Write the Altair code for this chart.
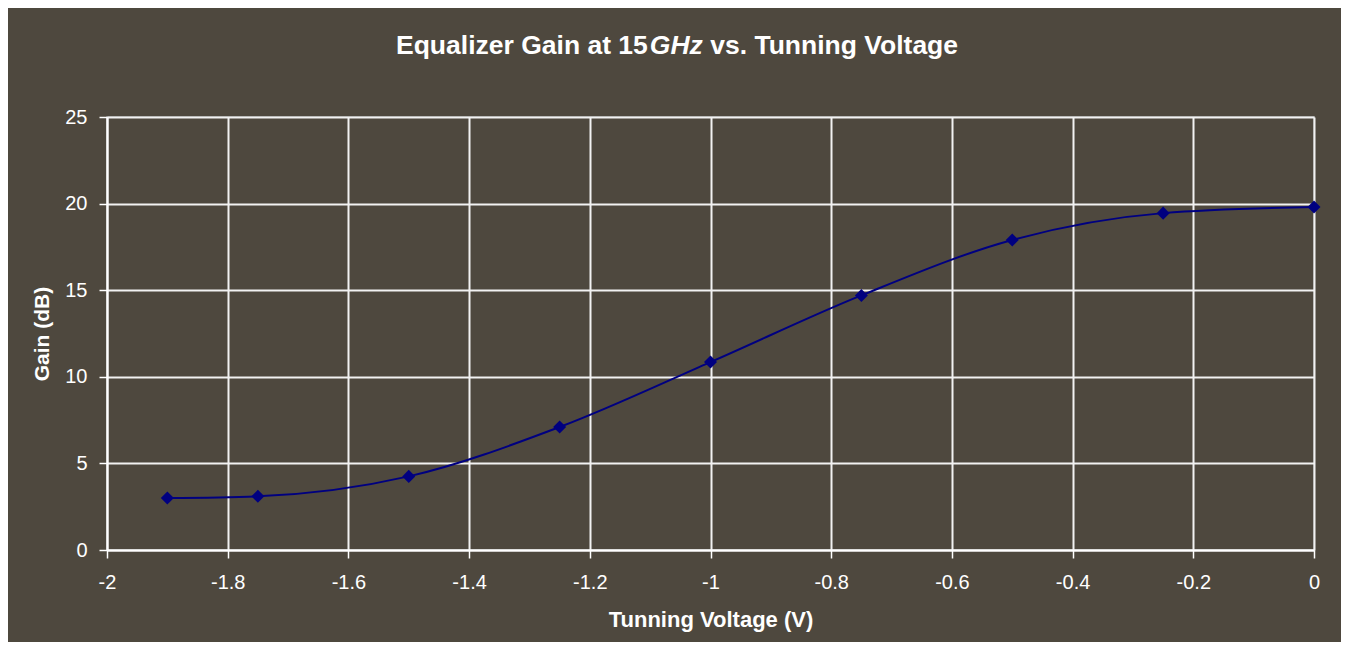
import altair as alt
import pandas as pd

voltage = [-1.9, -1.75, -1.5, -1.25, -1.0, -0.75, -0.5, -0.25, 0.0]
gain = [3.0, 3.1, 4.25, 7.1, 10.85, 14.7, 17.9, 19.45, 19.8]
x_ticks = [-2, -1.8, -1.6, -1.4, -1.2, -1, -0.8, -0.6, -0.4, -0.2, 0]
y_ticks = [0, 5, 10, 15, 20, 25]
title_parts = ["Equalizer Gain at 15", "GHz", "vs. Tunning Voltage"]

df = pd.DataFrame({"v": voltage, "g": gain})

BG = "#4e483e"
NAVY = "#000080"
FONT = "Liberation Sans"

x = alt.X("v:Q", scale=alt.Scale(domain=[-2, 0], nice=False),
          axis=alt.Axis(values=x_ticks, labelExpr="'' + datum.value",
                        labelFlush=False,
                        title="Tunning Voltage (V)", titleFontSize=22,
                        titlePadding=17, labelPadding=14))
y = alt.Y("g:Q", scale=alt.Scale(domain=[0, 25], nice=False),
          axis=alt.Axis(values=y_ticks, title="Gain (dB)", titleFontSize=21,
                        titlePadding=12, labelPadding=12, labelFlush=False))

base = alt.Chart(df)
line = base.mark_line(color=NAVY, strokeWidth=2, interpolate="monotone").encode(x=x, y=y)
pts = base.mark_point(shape="diamond", filled=True, color=NAVY, size=170, opacity=1).encode(x=x, y=y)

# title pieces (bold, with italic GHz)
fs = 26.5
w1, w2, wsp, w3 = 9.504 * fs, 2.0 * fs, 0.278 * fs, 9.502 * fs
cx = 571
left = cx - (w1 + w2 + wsp + w3) / 2
x1 = left + w1
x2 = x1 + w2 + wsp
ty = -63

def tpart(text, xpos, align, style):
    d = pd.DataFrame({"t": [text]})
    return alt.Chart(d).mark_text(
        font=FONT, fontSize=fs, fontWeight="bold", fontStyle=style,
        color="white", align=align, baseline="alphabetic"
    ).encode(text="t:N", x=alt.value(xpos), y=alt.value(ty))

t1 = tpart(title_parts[0], x1, "right", "normal")
t2 = tpart(title_parts[1], x1 + 2, "left", "italic")
t3 = tpart(title_parts[2], x2 + 2, "left", "normal")

chart = alt.layer(line, pts, t1, t2, t3).properties(
    width=1207, height=433,
    autosize=alt.AutoSizeParams(type="none"),
    padding={"left": 99, "top": 109, "right": 27, "bottom": 92},
    background=BG,
).configure_view(
    stroke="#9a9a9a", strokeWidth=1.5, fill=BG
).configure_axis(
    domainColor="white", domainWidth=2,
    gridColor="#f2f2f2", gridWidth=2,
    tickColor="white", tickWidth=1.5, tickSize=8,
    labelColor="white", labelFont=FONT, labelFontSize=20,
    titleColor="white", titleFont=FONT, titleFontWeight="bold",
)

chart.save("out.html", embed_options={"renderer": "svg", "actions": False})
